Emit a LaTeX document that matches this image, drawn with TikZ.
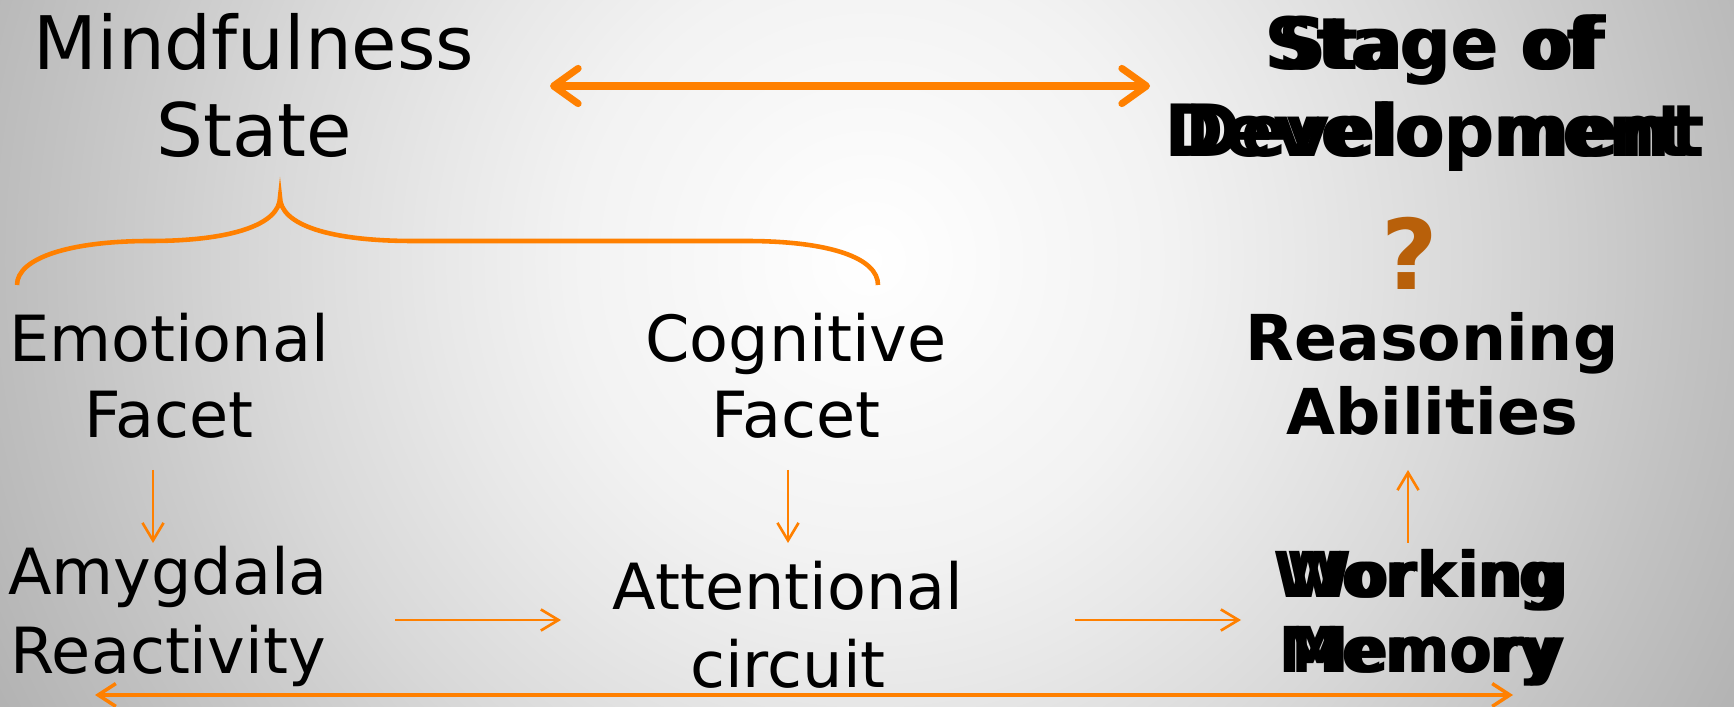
\documentclass[tikz,border=0pt]{standalone}
\usepackage{fontspec}
\setmainfont{DejaVu Sans}
\usetikzlibrary{arrows.meta}

\definecolor{accent}{RGB}{255,128,0}
\definecolor{quest}{RGB}{184,96,10}

% soft light spot behind the labels (25bp = circle edge)
\pgfdeclareradialshading{glow}{\pgfpoint{0bp}{0bp}}{%
  color(0bp)=(white); color(7.5bp)=(black!5); color(10.75bp)=(black!9);
  color(15bp)=(black!15); color(20.5bp)=(black!24); color(24.5bp)=(black!30);
  color(25bp)=(black!30); color(50bp)=(black!30)}

\tikzset{
  lbl/.style={align=center, anchor=base, inner sep=0pt,
    font=\fontsize{18.1}{21.8}\selectfont},
  biglbl/.style={lbl, font=\fontsize{21}{24.8}\selectfont},
  boldlbl/.style={lbl, font=\fontsize{18}{21.3}\selectfont\bfseries},
  link/.style={draw=accent, line width=0.75pt,
    -{Straight Barb[length=5pt,width=6pt]}},
  longlink/.style={draw=accent, line width=1pt,
    {Straight Barb[length=5pt,width=6.5pt]}-{Straight Barb[length=5pt,width=6.5pt]}},
  biglink/.style={draw=accent, line width=2pt, line cap=round,
    {Straight Barb[length=7pt,width=10pt,round]}-{Straight Barb[length=7pt,width=10pt,round]}},
  bracket/.style={draw=accent, line width=1.3pt}
}

\begin{document}
\begin{tikzpicture}[x=0.01cm,y=-0.01cm]
  \useasboundingbox (0,0) rectangle (1734,707);
  \begin{scope}
    \clip (0,0) rectangle (1734,707);
    \shade[shading=glow] (870,260) circle (1000);
  \end{scope}

  % top row (base = last line)
  \node[biglbl] (mind) at (254,157) {Mindfulness\\State};
  \node[biglbl, font=\fontsize{20.5}{24.8}\selectfont\bfseries] (stage) at (1435,157) {Stage of\\Development};
  \node[biglbl, font=\fontsize{20.5}{24.8}\selectfont\bfseries, xscale=0.93] (stageb) at (1437,157) {Stage of\\Development};

  % facets
  \node[lbl] (emo) at (169,438) {Emotional\\Facet};
  \node[lbl] (cog) at (796,438) {Cognitive\\Facet};
  \node[boldlbl] (reas) at (1432,435) {Reasoning\\Abilities};
  \node[boldlbl, font=\fontsize{27.7}{30}\selectfont\bfseries, text=quest] (ques) at (1410,290) {?};

  % bottom row
  \node[lbl, font=\fontsize{18.1}{22.2}\selectfont] (amyg) at (168,673) {Amygdala\\Reactivity};
  \node[lbl, font=\fontsize{18.1}{21.9}\selectfont] (attn) at (788,687) {Attentional\\circuit};
  \node[boldlbl] (work) at (1422,672) {Working\\Memory};
  \node[boldlbl, xscale=0.92] (workb) at (1424,672) {Working\\Memory};

  % arrow ends
  \coordinate (mindR) at (550,86);
  \coordinate (stageL) at (1150,86);
  \coordinate (emoOut) at (153,470);
  \coordinate (amygIn) at (153,543);
  \coordinate (cogOut) at (788,470);
  \coordinate (attnIn) at (788,543);
  \coordinate (workOut) at (1408,543);
  \coordinate (reasIn) at (1408,470);
  \coordinate (amygOut) at (395,620);
  \coordinate (attnL) at (561,620);
  \coordinate (attnOut) at (1075,620);
  \coordinate (workL) at (1241,620);
  \coordinate (baseL) at (95,695);
  \coordinate (baseR) at (1513,695);

  \draw[biglink] (mindR) -- (stageL);
  \draw[link] (emoOut) -- (amygIn);
  \draw[link] (cogOut) -- (attnIn);
  \draw[link] (workOut) -- (reasIn);
  \draw[link] (amygOut) -- (attnL);
  \draw[link] (attnOut) -- (workL);
  \draw[longlink] (baseL) -- (baseR);

  % brace under the state
  \draw[bracket] (17,285) .. controls (17,258) and (70,241) .. (150,241)
    .. controls (230,241) and (280,225) .. (280,197)
    .. controls (280,225) and (330,241) .. (413,241)
    -- (746,241)
    .. controls (830,241) and (878,258) .. (878,285);
\end{tikzpicture}
\end{document}
